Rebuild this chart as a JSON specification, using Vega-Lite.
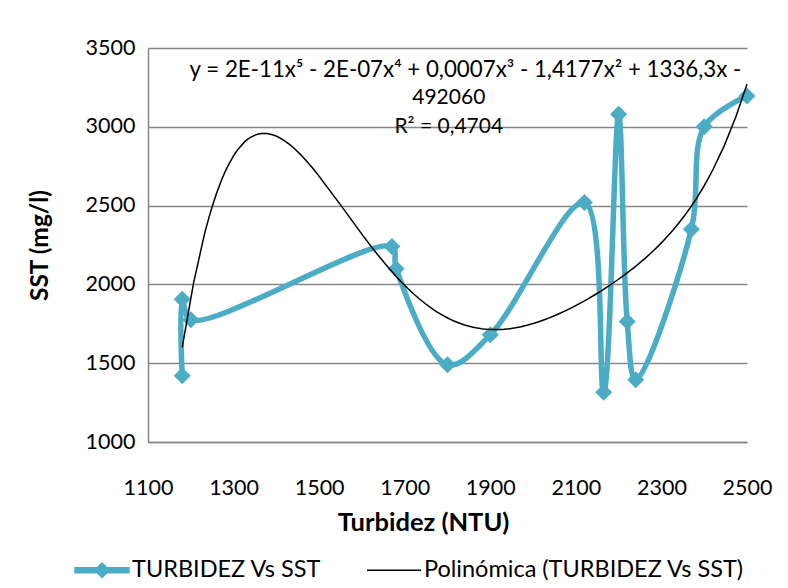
{
  "$schema": "https://vega.github.io/schema/vega-lite/v6.json",
  "width": 599,
  "height": 394,
  "autosize": {"type": "none"},
  "padding": {"left": 148, "top": 48, "right": 41, "bottom": 146},
  "background": "white",
  "config": {
    "font": "Lato",
    "view": {"stroke": null},
    "axis": {
      "domainColor": "#868686",
      "domainWidth": 1.5,
      "gridColor": "#868686",
      "gridWidth": 1.5,
      "ticks": false,
      "labelFont": "Lato",
      "labelFontSize": 21.5,
      "labelColor": "#000000",
      "labelFlush": false,
      "labelOverlap": false,
      "format": "d",
      "titleFont": "Lato",
      "titleFontWeight": "bold",
      "titleColor": "#000000"
    }
  },
  "datasets": {
    "muestras": [
      {"n": 1, "turbidez": 1180, "sst": 1420},
      {"n": 2, "turbidez": 1180, "sst": 1905},
      {"n": 3, "turbidez": 1200, "sst": 1775},
      {"n": 4, "turbidez": 1670, "sst": 2240},
      {"n": 5, "turbidez": 1680, "sst": 2100},
      {"n": 6, "turbidez": 1800, "sst": 1490},
      {"n": 7, "turbidez": 1900, "sst": 1680},
      {"n": 8, "turbidez": 2120, "sst": 2520},
      {"n": 9, "turbidez": 2165, "sst": 1315},
      {"n": 10, "turbidez": 2200, "sst": 3080},
      {"n": 11, "turbidez": 2220, "sst": 1765},
      {"n": 12, "turbidez": 2240, "sst": 1395},
      {"n": 13, "turbidez": 2370, "sst": 2350},
      {"n": 14, "turbidez": 2400, "sst": 3000},
      {"n": 15, "turbidez": 2500, "sst": 3195}
    ]
  },
  "layer": [
    {
      "data": {"name": "muestras"},
      "mark": {"type": "line", "interpolate": "catmull-rom", "strokeWidth": 5.5, "strokeJoin": "round"},
      "encoding": {
        "x": {
          "field": "turbidez",
          "type": "quantitative",
          "scale": {"domain": [1100, 2500], "nice": false, "zero": false},
          "axis": {
            "title": "Turbidez (NTU)",
            "titleFontSize": 25.5,
            "values": [1100, 1300, 1500, 1700, 1900, 2100, 2300, 2500],
            "grid": false,
            "labelBaseline": "middle",
            "labelPadding": 46,
            "titleX": 275,
            "titleY": 80,
            "titleBaseline": "middle"
          }
        },
        "y": {
          "field": "sst",
          "type": "quantitative",
          "scale": {"domain": [1000, 3500], "nice": false, "zero": false},
          "axis": {
            "title": "SST (mg/l)",
            "titleFontSize": 24.5,
            "values": [1000, 1500, 2000, 2500, 3000, 3500],
            "grid": true,
            "labelPadding": 13,
            "titleX": -108,
            "titleY": 197,
            "titleAngle": 270,
            "titleBaseline": "middle"
          }
        },
        "order": {"field": "n", "type": "quantitative"},
        "color": {
          "datum": "TURBIDEZ Vs SST",
          "type": "nominal",
          "scale": {
            "domain": ["TURBIDEZ Vs SST", "Polinómica (TURBIDEZ Vs SST)"],
            "range": ["#4BACC6", "#000000"]
          },
          "legend": {
            "title": null,
            "orient": "none",
            "direction": "horizontal",
            "legendX": -74,
            "legendY": 494,
            "symbolSize": 2916,
            "symbolStrokeWidth": 1.5,
            "labelFont": "Lato",
            "labelFontSize": 23.5,
            "labelColor": "#000000",
            "labelOffset": 2,
            "labelLimit": 500,
            "columnPadding": 42,
            "encode": {
              "symbols": {
                "update": {
                  "shape": {"signal": "datum.value === 'TURBIDEZ Vs SST' ? 'M-1,-0.09L-0.18,-0.09L0,-0.27L0.18,-0.09L1,-0.09L1,0.09L0.18,0.09L0,0.27L-0.18,0.09L-1,0.09Z' : 'M-1,0L1,0'"},
                  "stroke": {"signal": "datum.value === 'TURBIDEZ Vs SST' ? '#4BACC6' : '#000000'"},
                  "fill": {"signal": "datum.value === 'TURBIDEZ Vs SST' ? '#4BACC6' : 'transparent'"},
                  "opacity": {"value": 1}
                }
              }
            }
          }
        }
      }
    },
    {
      "data": {"name": "muestras"},
      "mark": {"type": "point", "shape": "diamond", "filled": true, "size": 289, "opacity": 1},
      "encoding": {
        "x": {"field": "turbidez", "type": "quantitative"},
        "y": {"field": "sst", "type": "quantitative"},
        "color": {"datum": "TURBIDEZ Vs SST", "type": "nominal"}
      }
    },
    {
      "data": {"name": "muestras"},
      "transform": [
        {"regression": "sst", "on": "turbidez", "method": "poly", "order": 5}
      ],
      "mark": {"type": "line", "strokeWidth": 1.5},
      "encoding": {
        "x": {"field": "turbidez", "type": "quantitative"},
        "y": {"field": "sst", "type": "quantitative"},
        "color": {"datum": "Polinómica (TURBIDEZ Vs SST)", "type": "nominal"}
      }
    },
    {
      "data": {"values": [{"linea": "y = 2E-11x⁵ - 2E-07x⁴ + 0,0007x³ - 1,4177x² + 1336,3x -"}]},
      "mark": {"type": "text", "font": "Lato", "fontSize": 22.3, "fill": "#000000", "align": "center", "baseline": "middle"},
      "encoding": {
        "x": {"datum": 1842, "type": "quantitative"},
        "y": {"datum": 3363, "type": "quantitative"},
        "text": {"field": "linea", "type": "nominal"}
      }
    },
    {
      "data": {"values": [{"linea": "492060"}]},
      "mark": {"type": "text", "font": "Lato", "fontSize": 21, "fill": "#000000", "align": "center", "baseline": "middle"},
      "encoding": {
        "x": {"datum": 1803, "type": "quantitative"},
        "y": {"datum": 3181, "type": "quantitative"},
        "text": {"field": "linea", "type": "nominal"}
      }
    },
    {
      "data": {"values": [{"linea": "R² = 0,4704"}]},
      "mark": {"type": "text", "font": "Lato", "fontSize": 21, "fill": "#000000", "align": "center", "baseline": "middle"},
      "encoding": {
        "x": {"datum": 1803, "type": "quantitative"},
        "y": {"datum": 2999, "type": "quantitative"},
        "text": {"field": "linea", "type": "nominal"}
      }
    }
  ]
}
